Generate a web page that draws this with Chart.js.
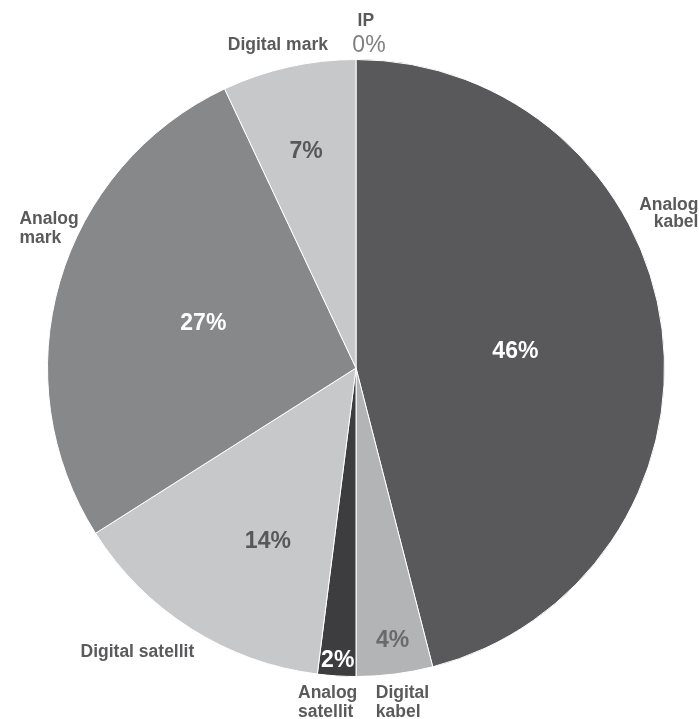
<!DOCTYPE html>
<html lang="sv">
<head>
  <meta charset="UTF-8">
  <title>TV-mottagning</title>
  <script src="https://cdn.jsdelivr.net/npm/chart.js"></script>
  <style>
    html, body {
      margin: 0;
      padding: 0;
      background: #fff;
    }
    .chart-box {
      position: relative;
      width: 699px;
      height: 719px;
    }
  </style>
</head>
<body>
  <div class="chart-box">
    <canvas id="receptionChart"></canvas>
  </div>

  <script>
    // Andel hushåll per mottagningssätt, medurs från toppen
    const categories = ['Analog kabel', 'Digital kabel', 'Analog satellit', 'Digital satellit', 'Analog mark', 'Digital mark', 'IP'];
    const shares = [46, 4, 2, 14, 27, 7, 0];
    const sliceColors = ['#59595b', '#b3b4b6', '#3d3c3e', '#c7c8ca', '#87888a', '#c7c8ca', '#c7c8ca'];

    // Procentetikett inuti tårtbiten: [andel av radien, vinkeljustering i grader, färg]
    const valueLabelSpots = [
      [0.52, 0.7, '#ffffff'],
      [0.885, -0.5, '#6a6a6c'],
      [0.944, 0, '#ffffff'],
      [0.627, -5.3, '#58585a'],
      [0.517, 0.6, '#ffffff'],
      [0.726, -0.3, '#58585a'],
      null
    ];

    // Kategorinamn utanför cirkeln: [x, y i radier från mitten, justering, radavstånd]
    const nameLabelSpots = [
      [1.110, -0.513, 'right', 17.5],
      [0.064, 1.071, 'left', 18.3],
      [-0.188, 1.071, 'left', 18.3],
      [-0.893, 0.937, 'left', 18],
      [-1.091, -0.468, 'left', 19.3],
      [-0.091, -1.032, 'right', 18],
      [0.032, -1.108, 'center', 18]
    ];
    const nameLines = [['Analog', 'kabel'], ['Digital', 'kabel'], ['Analog', 'satellit'], ['Digital satellit'], ['Analog', 'mark'], ['Digital mark'], ['IP']];

    const FONT = '"Liberation Sans", Arial, sans-serif';

    const pieLabels = {
      id: 'pieLabels',
      afterDatasetsDraw(chart) {
        const ctx = chart.ctx;
        const arcs = chart.getDatasetMeta(0).data;
        ctx.save();
        arcs.forEach((arc, i) => {
          const { x, y, startAngle, endAngle, outerRadius } = arc.getProps(['x', 'y', 'startAngle', 'endAngle', 'outerRadius'], true);
          const R = outerRadius;
          const text = shares[i] + '%';

          // procent inne i biten
          const spot = valueLabelSpots[i];
          if (spot) {
            const mid = (startAngle + endAngle) / 2 + spot[1] * Math.PI / 180;
            const px = x + Math.cos(mid) * R * spot[0];
            const py = y + Math.sin(mid) * R * spot[0];
            ctx.font = 'bold 23px ' + FONT;
            ctx.fillStyle = spot[2];
            ctx.textAlign = 'center';
            ctx.textBaseline = 'alphabetic';
            ctx.fillText(text, px, py + 8);
          }

          // namn utanför
          const n = nameLabelSpots[i];
          ctx.font = 'bold 17.5px ' + FONT;
          ctx.fillStyle = '#5a5a5c';
          ctx.textAlign = n[2];
          ctx.textBaseline = 'alphabetic';
          nameLines[i].forEach((line, k) => {
            ctx.fillText(line, x + n[0] * R, y + n[1] * R + k * n[3]);
          });

          // tom bit: värdet skrivs under namnet
          if (!spot) {
            ctx.font = '23px ' + FONT;
            ctx.fillStyle = '#808082';
            ctx.textAlign = 'center';
            ctx.fillText(text, x + 0.042 * R, y - 1.024 * R);
          }
        });
        ctx.restore();
      }
    };

    new Chart(document.getElementById('receptionChart'), {
      type: 'pie',
      data: {
        labels: categories,
        datasets: [{
          data: shares,
          backgroundColor: sliceColors,
          borderColor: '#ffffff',
          borderWidth: 1
        }]
      },
      options: {
        responsive: true,
        maintainAspectRatio: false,
        animation: false,
        layout: { padding: { top: 59, bottom: 42, left: 47, right: 34 } },
        plugins: {
          legend: { display: false },
          tooltip: { enabled: false }
        }
      },
      plugins: [pieLabels]
    });
  </script>
</body>
</html>
